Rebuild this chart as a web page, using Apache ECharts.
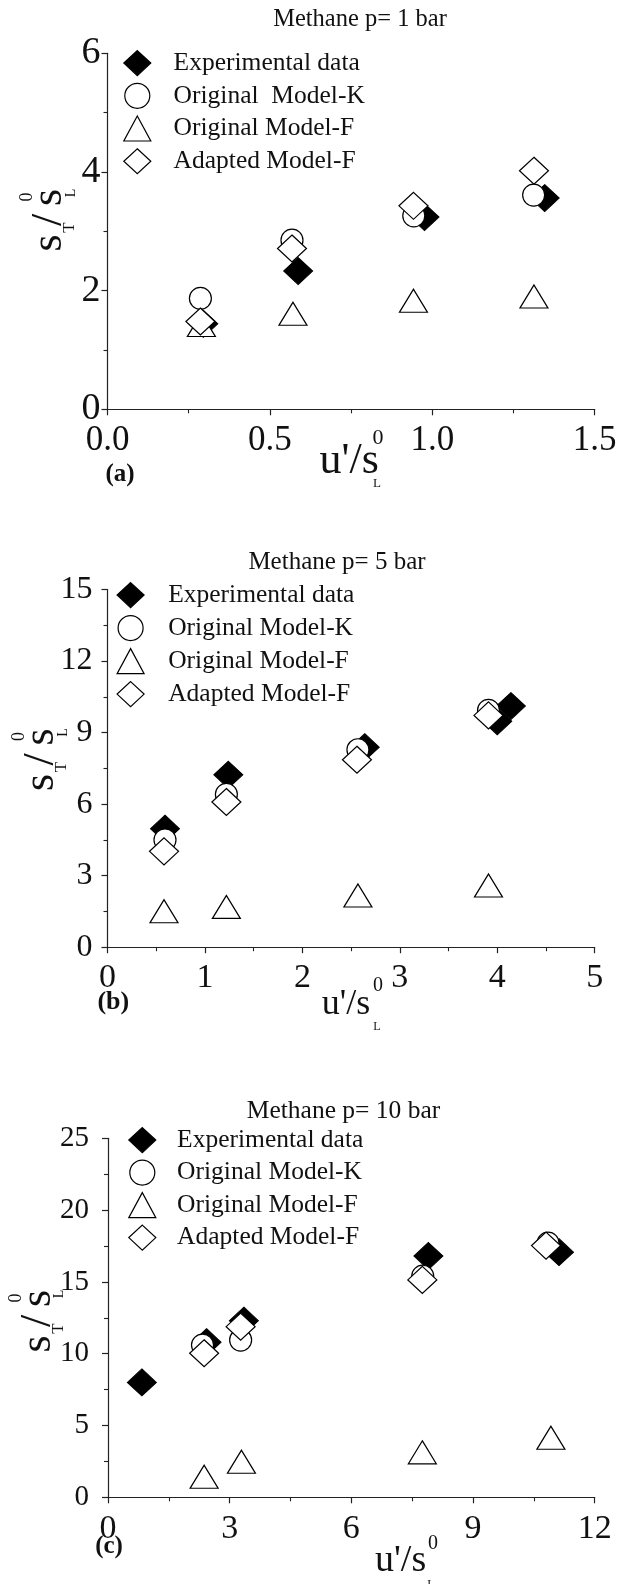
<!DOCTYPE html>
<html>
<head>
<meta charset="utf-8">
<script src="https://cdn.jsdelivr.net/npm/echarts@6.0.0/dist/echarts.min.js"></script>
<style>
html,body{margin:0;padding:0;background:#fff;}
#chart{width:619px;height:1584px;}
</style>
</head>
<body>
<div id="chart"></div>
<script>
// ---------- data ----------
const seriesNames = ['Experimental data', 'Original  Model-K', 'Original Model-F', 'Adapted Model-F'];
const legendLabelsA = ['Experimental data', 'Original  Model-K', 'Original Model-F', 'Adapted Model-F'];
const legendLabelsBC = ['Experimental data', 'Original Model-K', 'Original Model-F', 'Adapted Model-F'];

const titles = ['Methane p= 1 bar', 'Methane p= 5 bar', 'Methane p= 10 bar'];
const panelLabels = ['(a)', '(b)', '(c)'];

// Panel (a): p = 1 bar  [u'/sL0, sT/sL0]
const expA = [[0.295, 1.44], [0.587, 2.33], [0.976, 3.24], [1.346, 3.56]];
const modKA = [[0.286, 1.87], [0.568, 2.85], [0.943, 3.26], [1.312, 3.61]];
const modFA = [[0.289, 1.42], [0.571, 1.61], [0.942, 1.83], [1.313, 1.90]];
const adpA = [[0.286, 1.48], [0.568, 2.71], [0.942, 3.43], [1.313, 4.02]];

// Panel (b): p = 5 bar
const expB = [[0.59, 4.97], [1.24, 7.23], [2.64, 8.39], [4.00, 9.47], [4.14, 10.11]];
const modKB = [[0.59, 4.50], [1.22, 6.41], [2.57, 8.28], [3.91, 9.93]];
const modFB = [[0.58, 1.51], [1.22, 1.69], [2.57, 2.17], [3.91, 2.59]];
const adpB = [[0.58, 4.02], [1.22, 6.09], [2.56, 7.86], [3.91, 9.72]];

// Panel (c): p = 10 bar
const expC = [[0.835, 8.00], [2.43, 10.8], [3.35, 12.3], [7.90, 16.8], [11.12, 17.07]];
const modKC = [[2.33, 10.6], [3.27, 10.95], [7.76, 15.4], [10.85, 17.7]];
const modFC = [[2.37, 1.43], [3.29, 2.48], [7.75, 3.13], [10.92, 4.15]];
const adpC = [[2.37, 10.03], [3.27, 11.88], [7.75, 15.14], [10.80, 17.53]];

// tick values
const xTicksA = [0, 0.5, 1.0, 1.5];
const yTicksA = [0, 2, 4, 6];
const xTicksB = [0, 1, 2, 3, 4, 5];
const yTicksB = [0, 3, 6, 9, 12, 15];
const xTicksC = [0, 3, 6, 9, 12];
const yTicksC = [0, 5, 10, 15, 20, 25];

// ---------- layout / style ----------
const FONT = '"Liberation Serif", "Times New Roman", serif';
const INK = '#111';
const AXIS = '#222';

const grids = [
  {left: 107.5, top: 53.3, width: 487.2, height: 356.0},
  {left: 107.5, top: 589.5, width: 487.2, height: 357.7},
  {left: 108.0, top: 1138.3, width: 486.7, height: 359.0}
];
const xLabelSize = [35, 34, 34];
const yLabelSize = [38, 32, 29];
const yLabelMargin = [7, 15, 19];
const xLabelMargin = [14, 14, 15];
const xFmt = [v => v.toFixed(1), v => String(v), v => String(v)];

const panelsData = [
  [expA, modKA, modFA, adpA],
  [expB, modKB, modFB, adpB],
  [expC, modKC, modFC, adpC]
];
const xTicks = [xTicksA, xTicksB, xTicksC];
const yTicks = [yTicksA, yTicksB, yTicksC];

const symStyles = [
  {symbol: 'diamond', symbolSize: [29, 27], itemStyle: {color: '#000', borderColor: '#000', borderWidth: 1, opacity: 1}},
  {symbol: 'circle', symbolSize: 22, itemStyle: {color: '#fff', borderColor: '#000', borderWidth: 1.2, opacity: 1}},
  {symbol: 'triangle', symbolSize: [28, 23], itemStyle: {color: '#fff', borderColor: '#000', borderWidth: 1.2, opacity: 1}},
  {symbol: 'diamond', symbolSize: [29, 27], itemStyle: {color: '#fff', borderColor: '#000', borderWidth: 1.2, opacity: 1}}
];

function axisCommon(ticks) {
  return {
    min: ticks[0],
    max: ticks[ticks.length - 1],
    interval: ticks[1] - ticks[0],
    splitLine: {show: false},
    axisLine: {show: true, onZero: false, lineStyle: {color: AXIS, width: 1.2}},
    axisTick: {show: true, inside: false, length: 6, lineStyle: {color: AXIS, width: 1.2}},
    minorTick: {show: true, splitNumber: 2, length: 4, lineStyle: {color: AXIS, width: 1.1}},
    minorSplitLine: {show: false}
  };
}

const xAxes = [], yAxes = [], series = [];
for (let p = 0; p < 3; p++) {
  xAxes.push(Object.assign(axisCommon(xTicks[p]), {
    type: 'value', gridIndex: p,
    axisLabel: {fontFamily: FONT, fontSize: xLabelSize[p], color: INK, margin: xLabelMargin[p], formatter: xFmt[p], showMinLabel: true, showMaxLabel: true}
  }));
  yAxes.push(Object.assign(axisCommon(yTicks[p]), {
    type: 'value', gridIndex: p,
    axisLabel: {fontFamily: FONT, fontSize: yLabelSize[p], color: INK, margin: yLabelMargin[p], showMinLabel: true, showMaxLabel: true}
  }));
  for (let s = 0; s < 4; s++) {
    series.push(Object.assign({
      type: 'scatter',
      name: seriesNames[s],
      xAxisIndex: p, yAxisIndex: p,
      data: panelsData[p][s],
      z: 2 + s,
      emphasis: {disabled: true},
      silent: true
    }, JSON.parse(JSON.stringify(symStyles[s]))));
  }
}

// legends
const legendPos = [
  {cx: 136.7, cy: 62.5, pitch: 31.5, textX: 173.0, labels: legendLabelsA},
  {cx: 130.0, cy: 594.5, pitch: 31.8, textX: 167.6, labels: legendLabelsBC},
  {cx: 141.7, cy: 1139.5, pitch: 31.3, textX: 176.5, labels: legendLabelsBC}
];
const LW = 27, LH = 25;
const legends = legendPos.map(lp => ({
  orient: 'vertical',
  left: lp.cx - LW / 2,
  top: lp.cy - LH / 2,
  itemWidth: LW, itemHeight: LH,
  itemGap: lp.pitch - LH,
  padding: 0,
  selectedMode: false,
  itemStyle: {borderWidth: 1.2, borderColor: '#000', opacity: 1},
  textStyle: {fontFamily: FONT, fontSize: 25.5, color: INK, lineHeight: LH, padding: [0, 0, 0, lp.textX - (lp.cx + LW / 2 + 5)]},
  formatter: name => lp.labels[seriesNames.indexOf(name)],
  data: seriesNames
}));

// ---------- text graphics ----------
function T(x, y, text, size, rot, opts) {
  opts = opts || {};
  return {
    type: 'text', x: x, y: y, rotation: rot || 0, silent: true,
    style: {
      text: text,
      font: (opts.bold ? 'bold ' : '') + size + 'px ' + FONT,
      fill: INK,
      textAlign: opts.align || 'center',
      textVerticalAlign: 'middle'
    }
  };
}
function yTitle(cx, cy) {
  const R = Math.PI / 2;
  return [
    T(cx, cy, 's', 44, R),
    T(cx + 20.5, cy - 15.5, 'T', 17, R),
    T(cx, cy - 23, '/', 44, R),
    T(cx, cy - 45.5, 's', 44, R),
    T(cx - 22, cy - 46, '0', 18, R),
    T(cx + 21.5, cy - 50, 'L', 14, R)
  ];
}
function xTitle(left, mid, size, supX, supY, supSize, subX, subY, subSize) {
  return [
    T(left, mid, "u'/s", size, 0, {align: 'left'}),
    T(supX, supY, '0', supSize, 0),
    T(subX, subY, 'L', subSize, 0)
  ];
}

const elements = [].concat(
  [T(360, 19.5, titles[0], 24.5, 0), T(337, 562, titles[1], 25, 0), T(343.5, 1111, titles[2], 25.5, 0)],
  [T(120, 475, panelLabels[0], 25, 0, {bold: true}), T(113.3, 1002.5, panelLabels[1], 26, 0, {bold: true}), T(109, 1547, panelLabels[2], 25, 0, {bold: true})],
  yTitle(49.5, 243),
  yTitle(41.5, 782.5),
  yTitle(38.2, 1344),
  xTitle(319.5, 461.6, 44, 378, 438.5, 22, 377, 484, 13),
  xTitle(321.7, 1005, 36, 378, 986, 20, 377, 1027, 12),
  xTitle(375, 1561.4, 38, 433, 1544, 20, 431, 1585, 12)
);

const chart = echarts.init(document.getElementById('chart'), null, {renderer: 'canvas', width: 619, height: 1584});
chart.setOption({
  animation: false,
  backgroundColor: '#fff',
  grid: grids.map(g => Object.assign({containLabel: false, outerBoundsMode: 'none'}, g)),
  xAxis: xAxes,
  yAxis: yAxes,
  legend: legends,
  series: series,
  graphic: {elements: elements}
});
</script>
</body>
</html>
